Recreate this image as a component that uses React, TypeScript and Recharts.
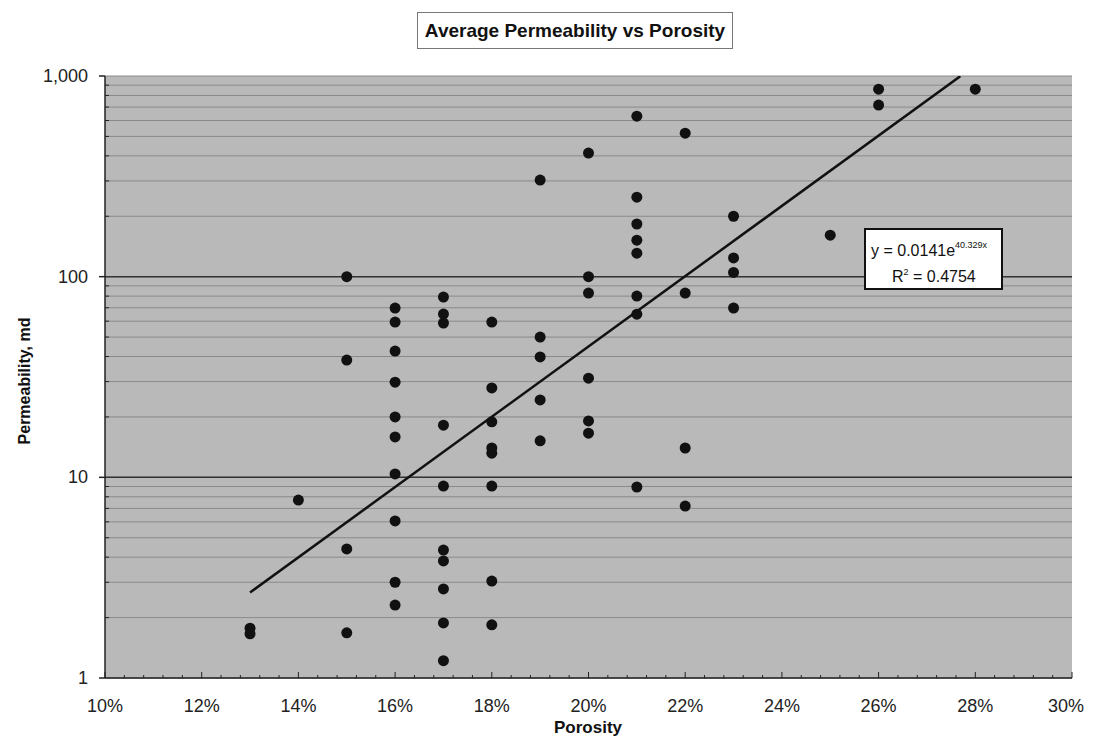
import { ScatterChart, Scatter, XAxis, YAxis, CartesianGrid, ReferenceLine } from "recharts"

// porosity (fraction) and average permeability (md), read column by column
const porosity = [
  0.13, 0.13,
  0.14,
  0.15, 0.15, 0.15, 0.15,
  0.16, 0.16, 0.16, 0.16, 0.16, 0.16, 0.16, 0.16, 0.16, 0.16,
  0.17, 0.17, 0.17, 0.17, 0.17, 0.17, 0.17, 0.17, 0.17, 0.17,
  0.18, 0.18, 0.18, 0.18, 0.18, 0.18, 0.18, 0.18,
  0.19, 0.19, 0.19, 0.19, 0.19,
  0.2, 0.2, 0.2, 0.2, 0.2, 0.2,
  0.21, 0.21, 0.21, 0.21, 0.21, 0.21, 0.21, 0.21,
  0.22, 0.22, 0.22, 0.22,
  0.23, 0.23, 0.23, 0.23,
  0.25,
  0.26, 0.26,
  0.28,
]
const permeability = [
  1.77, 1.66,
  7.7,
  100, 38.4, 4.4, 1.68,
  69.7, 59.4, 42.6, 29.8, 20, 15.9, 10.4, 6.06, 3.0, 2.31,
  79.1, 65.1, 58.7, 18.2, 9.05, 4.34, 3.83, 2.78, 1.88, 1.22,
  59.4, 27.9, 18.9, 14.0, 13.2, 9.05, 3.04, 1.84,
  303, 50, 39.8, 24.3, 15.2,
  413, 100, 82.8, 31.2, 19.1, 16.6,
  631, 249, 183, 152, 131, 80, 65, 8.95,
  519, 82.8, 14.0, 7.19,
  200, 124, 105, 69.8,
  161,
  860, 716,
  860,
]

// exponential trendline as printed on the chart
const trendA = 0.0141
const trendB = 40.329
const trendR2 = 0.4754
const trendRange = [0.13, 0.2769]

const xMajorTicks = [0.1, 0.12, 0.14, 0.16, 0.18, 0.2, 0.22, 0.24, 0.26, 0.28, 0.3]
const yDecades = [1, 10, 100, 1000]

const points = porosity.map((x, i) => ({ x, y: permeability[i] }))
const trend = trendRange.map((x) => ({ x, y: trendA * Math.exp(trendB * x) }))

// minor ticks every 0.4% along x, 1..9 inside each decade along y
const xTicks = Array.from({ length: 51 }, (_, i) => Math.round((0.1 + i * 0.004) * 10000) / 10000)
const yTicks: number[] = []
yDecades.slice(0, -1).forEach((d) => {
  for (let k = 1; k < 10; k++) yTicks.push(d * k)
})
yTicks.push(1000)

const isMajorX = (v: number) => xMajorTicks.some((m) => Math.abs(m - v) < 1e-6)

function PorosityTick({ x, y, payload }: any) {
  const major = isMajorX(payload.value)
  // keep the last label inside the frame
  const last = Math.abs(payload.value - 0.3) < 1e-6
  return (
    <g>
      <line x1={x} x2={x} y1={y} y2={y - (major ? 6 : 3)} stroke="#222" strokeWidth={1} />
      {major && (
        <text
          x={last ? x + 12 : x}
          y={y + 34}
          textAnchor={last ? "end" : "middle"}
          fontSize={18}
          fill="#222"
        >
          {Math.round(payload.value * 100)}%
        </text>
      )}
    </g>
  )
}

function PermTick({ x, y, payload }: any) {
  const major = yDecades.includes(payload.value)
  return (
    <g>
      {major ? (
        <line x1={x - 6} x2={x} y1={y} y2={y} stroke="#222" strokeWidth={1.5} />
      ) : (
        <line x1={x} x2={x + 4} y1={y} y2={y} stroke="#222" strokeWidth={1} />
      )}
      {major && (
        <text x={x - 17} y={y + 6} textAnchor="end" fontSize={18} fill="#222">
          {payload.value.toLocaleString("en-US")}
        </text>
      )}
    </g>
  )
}

const Dot = ({ cx, cy }: any) => <circle cx={cx} cy={cy} r={5.5} fill="#111" />

export default function App() {
  return (
    <div
      style={{
        position: "relative",
        margin: -8,
        width: 1093,
        height: 746,
        overflow: "hidden",
        background: "#fff",
        fontFamily: "'Liberation Sans', Arial, sans-serif",
        color: "#111",
      }}
    >
      <ScatterChart width={1093} height={746} margin={{ top: 76, right: 21, bottom: 28, left: 0 }}>
        <CartesianGrid
          vertical={false}
          fill="#b9b9b9"
          fillOpacity={1}
          stroke="#8a8a8a"
          strokeWidth={1}
        />
        <XAxis
          type="number"
          dataKey="x"
          domain={[0.1, 0.3]}
          ticks={xTicks}
          interval={0}
          tick={<PorosityTick />}
          tickLine={false}
          tickSize={0}
          tickMargin={0}
          axisLine={{ stroke: "#222", strokeWidth: 1.5 }}
          height={40}
          allowDataOverflow
        />
        <YAxis
          type="number"
          dataKey="y"
          scale="log"
          domain={[1, 1000]}
          ticks={yTicks}
          interval={0}
          tick={<PermTick />}
          tickLine={false}
          tickSize={0}
          tickMargin={0}
          axisLine={{ stroke: "#222", strokeWidth: 1.5 }}
          width={105}
          allowDataOverflow
        />
        <ReferenceLine y={10} stroke="#333" strokeWidth={1.5} />
        <ReferenceLine y={100} stroke="#333" strokeWidth={1.5} />
        <Scatter
          data={trend}
          line={{ stroke: "#111", strokeWidth: 2.5 }}
          shape={() => <g />}
          isAnimationActive={false}
        />
        <Scatter data={points} shape={<Dot />} isAnimationActive={false} />
      </ScatterChart>

      <div
        style={{
          position: "absolute",
          left: 417,
          top: 12,
          width: 316,
          height: 37,
          boxSizing: "border-box",
          border: "1px solid #777",
          background: "#fff",
          fontWeight: "bold",
          fontSize: 19,
          lineHeight: "35px",
          textAlign: "center",
          whiteSpace: "nowrap",
        }}
      >
        Average Permeability vs Porosity
      </div>

      <div
        style={{
          position: "absolute",
          left: 864,
          top: 228,
          width: 139,
          height: 62,
          boxSizing: "border-box",
          border: "2px solid #111",
          background: "#fff",
          fontSize: 16,
          lineHeight: "23px",
          paddingTop: 9,
          whiteSpace: "nowrap",
        }}
      >
        <div style={{ paddingLeft: 5 }}>
          y = {trendA}e
          <span style={{ fontSize: 9, position: "relative", top: -8 }}>{trendB}x</span>
        </div>
        <div style={{ paddingLeft: 26 }}>
          R<span style={{ fontSize: 9, position: "relative", top: -7 }}>2</span> = {trendR2}
        </div>
      </div>

      <div
        style={{
          position: "absolute",
          left: 25,
          top: 381,
          transform: "translate(-50%, -50%) rotate(-90deg)",
          fontWeight: "bold",
          fontSize: 16,
          whiteSpace: "nowrap",
        }}
      >
        Permeability, md
      </div>

      <div
        style={{
          position: "absolute",
          left: 588,
          top: 728,
          transform: "translate(-50%, -50%)",
          fontWeight: "bold",
          fontSize: 17,
        }}
      >
        Porosity
      </div>
    </div>
  )
}
